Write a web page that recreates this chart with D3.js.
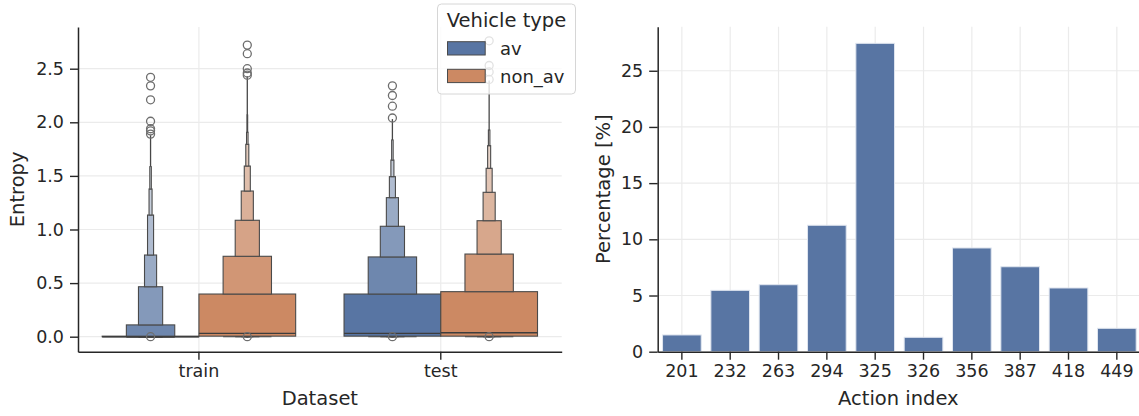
<!DOCTYPE html>
<html>
<head>
<meta charset="utf-8">
<script src="https://cdn.jsdelivr.net/npm/d3@7"></script>
<style>
  body { margin: 0; background: #fff; }
  text { font-family: "DejaVu Sans", sans-serif; fill: #262626; }
</style>
</head>
<body>
<script>
// ---- data ----
const datasets = ["train", "test"];
const vehicleTypes = ["av", "non_av"];
const entropyTicks = [0, 0.5, 1, 1.5, 2, 2.5];

// tops of the letter-value boxes, widest box first
const trainAvTops = [0.005, 0.11, 0.466, 0.762, 1.135, 1.378, 1.586];
const trainNonAvTops = [0.398, 0.75, 1.086, 1.359, 1.592, 1.795, 1.907, 2.068];
const testAvTops = [0.398, 0.744, 1.03, 1.297, 1.493, 1.648, 1.835];
const testNonAvTops = [0.42, 0.771, 1.082, 1.347, 1.571, 1.782, 1.928];

// order: train/av, train/non_av, test/av, test/non_av
const boxBottoms = [0, 0.005, 0.005, 0.005];
const medians = [0, 0.031, 0.031, 0.037];
const whiskerTops = [1.88, 2.43, 2.03, 2.39];

const trainAvOutliers = [0, 1.89, 1.92, 1.94, 2.01, 2.21, 2.34, 2.42];
const trainNonAvOutliers = [0, 2.44, 2.46, 2.5, 2.64, 2.72];
const testAvOutliers = [0, 2.04, 2.15, 2.25, 2.34];
const testNonAvOutliers = [0, 2.4, 2.47, 2.53, 2.76];

const actions = ["201", "232", "263", "294", "325", "326", "356", "387", "418", "449"];
const percentages = [1.49, 5.46, 5.96, 11.25, 27.44, 1.28, 9.23, 7.56, 5.67, 2.08];
const percentTicks = [0, 5, 10, 15, 20, 25];

const hueColors = { av: "#5875a3", non_av: "#cc8963" };
const ink = "#262626";
const gridColor = "#ebebeb";

const svg = d3.select("body")
  .append("svg")
  .attr("width", 1139)
  .attr("height", 416);

function styleAxis(g) {
  g.selectAll(".domain").attr("stroke", ink).attr("stroke-width", 1.5);
  g.selectAll(".tick line").attr("stroke", ink).attr("stroke-width", 1.4);
  g.selectAll(".tick text")
    .attr("font-size", "17.5px")
    .attr("font-family", "DejaVu Sans")
    .attr("fill", ink);
}

// ================= left: boxen plot =================
const left = { x0: 78, x1: 561.7, y0: 27, y1: 351.7 };

const x = d3.scaleBand().domain(datasets).range([left.x0, left.x1]);
const hue = d3.scaleBand().domain(vehicleTypes).range([0, x.bandwidth() * 0.8]);
const y = d3.scaleLinear().domain([-0.14, 2.889]).range([left.y1, left.y0]);

// grid
svg.append("g")
  .selectAll("line")
  .data(entropyTicks)
  .join("line")
  .attr("x1", left.x0).attr("x2", left.x1)
  .attr("y1", d => y(d)).attr("y2", d => y(d))
  .attr("stroke", gridColor).attr("stroke-width", 1.2);

svg.append("g")
  .selectAll("line")
  .data(datasets)
  .join("line")
  .attr("x1", d => x(d) + x.bandwidth() / 2).attr("x2", d => x(d) + x.bandwidth() / 2)
  .attr("y1", left.y0).attr("y2", left.y1)
  .attr("stroke", gridColor).attr("stroke-width", 1.2);

const groups = [
  { set: "train", type: "av", tops: trainAvTops, outliers: trainAvOutliers },
  { set: "train", type: "non_av", tops: trainNonAvTops, outliers: trainNonAvOutliers },
  { set: "test", type: "av", tops: testAvTops, outliers: testAvOutliers },
  { set: "test", type: "non_av", tops: testNonAvTops, outliers: testNonAvOutliers },
];
groups.forEach((g, i) => {
  g.bottom = boxBottoms[i];
  g.median = medians[i];
  g.whisker = whiskerTops[i];
});

const boxen = svg.append("g");

groups.forEach(g => {
  const offset = x.bandwidth() * 0.1;
  const cx = x(g.set) + offset + hue(g.type) + hue.bandwidth() / 2;
  const full = hue.bandwidth();
  const n = g.tops.length;
  const light = d3.interpolateRgb(hueColors[g.type], "#f2f2f2");
  const grp = boxen.append("g");

  // whisker line above the narrowest box
  grp.append("line")
    .attr("x1", cx).attr("x2", cx)
    .attr("y1", y(g.tops[n - 1])).attr("y2", y(g.whisker))
    .attr("stroke", "#474747").attr("stroke-width", 1.3);

  // boxes from widest to narrowest, each sitting on the previous top
  g.tops.forEach((top, k) => {
    const w = full * Math.pow(0.5, k);
    const base = k === 0 ? g.bottom : g.tops[k - 1];
    grp.append("rect")
      .attr("x", cx - w / 2)
      .attr("width", w)
      .attr("y", y(top))
      .attr("height", Math.max(y(base) - y(top), 0.6))
      .attr("fill", light(k / n))
      .attr("stroke", "#4a4a4a")
      .attr("stroke-width", 1.1);
    if (k > 0) {
      // thin lower part of this level
      grp.append("line")
        .attr("x1", cx - w / 2).attr("x2", cx + w / 2)
        .attr("y1", y(g.bottom) + 0.6).attr("y2", y(g.bottom) + 0.6)
        .attr("stroke", "#4a4a4a").attr("stroke-width", 1.1);
    }
  });

  // median
  grp.append("line")
    .attr("x1", cx - full / 2).attr("x2", cx + full / 2)
    .attr("y1", y(g.median)).attr("y2", y(g.median))
    .attr("stroke", "#3d3d3d").attr("stroke-width", 1.4);

  // outliers
  grp.selectAll("circle")
    .data(g.outliers)
    .join("circle")
    .attr("cx", cx)
    .attr("cy", d => y(d))
    .attr("r", 4)
    .attr("fill", "none")
    .attr("stroke", "#6e6e6e")
    .attr("stroke-width", 1.3);
});

// axes
const yAxisL = svg.append("g")
  .attr("transform", "translate(" + left.x0 + ",0)")
  .call(d3.axisLeft(y).tickValues(entropyTicks).tickFormat(d3.format(".1f"))
    .tickSize(8).tickSizeOuter(0).tickPadding(6));
styleAxis(yAxisL);

const xAxisL = svg.append("g")
  .attr("transform", "translate(0," + left.y1 + ")")
  .call(d3.axisBottom(x).tickSize(8).tickSizeOuter(0).tickPadding(5));
styleAxis(xAxisL);

svg.append("text")
  .attr("transform", "translate(24," + (left.y0 + left.y1) / 2 + ") rotate(-90)")
  .attr("text-anchor", "middle")
  .attr("font-size", "19.5px")
  .text("Entropy");

svg.append("text")
  .attr("x", (left.x0 + left.x1) / 2)
  .attr("y", 405)
  .attr("text-anchor", "middle")
  .attr("font-size", "19.5px")
  .text("Dataset");

// legend
const legend = svg.append("g").attr("transform", "translate(437.5,4)");
legend.append("rect")
  .attr("width", 138).attr("height", 90).attr("rx", 4)
  .attr("fill", "white").attr("fill-opacity", 0.8)
  .attr("stroke", "#d6d6d6").attr("stroke-width", 1);
legend.append("text")
  .attr("x", 69).attr("y", 23)
  .attr("text-anchor", "middle")
  .attr("font-size", "19.5px")
  .text("Vehicle type");
vehicleTypes.forEach((t, i) => {
  legend.append("rect")
    .attr("x", 10).attr("y", 37.7 + i * 27.6)
    .attr("width", 37.7).attr("height", 13.3)
    .attr("fill", hueColors[t])
    .attr("stroke", "#4a4a4a").attr("stroke-width", 1);
  legend.append("text")
    .attr("x", 62.5).attr("y", 51 + i * 27.6)
    .attr("font-size", "18px")
    .text(t);
});

// ================= right: bar chart =================
const right = { x0: 657.7, x1: 1141, y0: 26.7, y1: 351.7 };

const xb = d3.scaleBand().domain(actions).range([right.x0, right.x1])
  .paddingInner(0.2).paddingOuter(0.1);
const yb = d3.scaleLinear().domain([0, 28.92]).range([right.y1, right.y0]);

svg.append("g")
  .selectAll("line")
  .data(percentTicks)
  .join("line")
  .attr("x1", right.x0).attr("x2", right.x1)
  .attr("y1", d => yb(d)).attr("y2", d => yb(d))
  .attr("stroke", gridColor).attr("stroke-width", 1.2);

svg.append("g")
  .selectAll("line")
  .data(actions)
  .join("line")
  .attr("x1", d => xb(d) + xb.bandwidth() / 2).attr("x2", d => xb(d) + xb.bandwidth() / 2)
  .attr("y1", right.y0).attr("y2", right.y1)
  .attr("stroke", gridColor).attr("stroke-width", 1.2);

svg.append("g")
  .selectAll("rect")
  .data(actions)
  .join("rect")
  .attr("x", d => xb(d))
  .attr("width", xb.bandwidth())
  .attr("y", (d, i) => yb(percentages[i]))
  .attr("height", (d, i) => yb(0) - yb(percentages[i]))
  .attr("fill", hueColors.av)
  .attr("stroke", "#dfe5ef")
  .attr("stroke-width", 1);

const yAxisR = svg.append("g")
  .attr("transform", "translate(" + right.x0 + ",0)")
  .call(d3.axisLeft(yb).tickValues(percentTicks).tickSize(8.5).tickSizeOuter(0).tickPadding(6));
styleAxis(yAxisR);

const xAxisR = svg.append("g")
  .attr("transform", "translate(0," + right.y1 + ")")
  .call(d3.axisBottom(xb).tickSize(8).tickSizeOuter(0).tickPadding(5));
styleAxis(xAxisR);

svg.append("text")
  .attr("transform", "translate(610," + (right.y0 + right.y1) / 2 + ") rotate(-90)")
  .attr("text-anchor", "middle")
  .attr("font-size", "19.5px")
  .text("Percentage [%]");

svg.append("text")
  .attr("x", (right.x0 + 1139) / 2)
  .attr("y", 405)
  .attr("text-anchor", "middle")
  .attr("font-size", "19.5px")
  .text("Action index");
</script>
</body>
</html>
